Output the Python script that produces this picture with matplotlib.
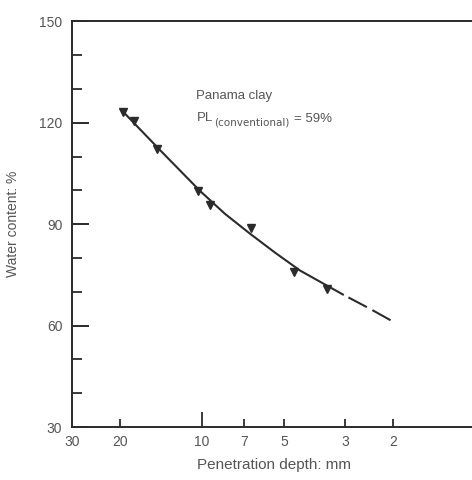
import matplotlib
matplotlib.use('Agg')
import matplotlib.pyplot as plt

plt.rcParams['font.family'] = ['Liberation Sans', 'DejaVu Sans']

#measured points (penetration depth mm, water content %)
depth = [19.5, 17.8, 14.7, 10.4, 9.4, 6.6, 4.6, 3.5]
water = [123.3, 120.6, 112.3, 99.9, 95.7, 88.8, 76.0, 70.7]

#fitted curve, solid part and dashed extrapolation
fit_depth = [19.5, 14.3, 10.2, 8.26, 6.68, 5.41, 4.38, 3.05]
fit_water = [123.3, 112.0, 99.9, 93.1, 87.2, 81.6, 76.3, 69.2]
ext_depth = [3.05, 2.43, 2.0]
ext_water = [69.2, 65.0, 61.2]

xticks = [30, 20, 10, 7, 5, 3, 2]
yticks = [30, 60, 90, 120, 150]
yminor = [40, 50, 70, 80, 100, 110, 130, 140]

ink = '#2b2b2b'
txt = '#555555'

fig = plt.figure(figsize=(4.72, 4.80), dpi=100)
ax = fig.add_axes([0.1525, 0.1104, 0.854, 0.845])

ax.plot(fit_depth, fit_water, color=ink, lw=1.5)
#dashed part starts with a gap
ax.plot(ext_depth, ext_water, color=ink, lw=1.5, linestyle=(10, (10, 3)),
        dash_capstyle='butt')
ax.plot(depth, water, linestyle='none', marker='v', color=ink, markersize=6)

ax.set_xscale('log')
ax.set_xlim(30, 1)
ax.set_ylim(30, 150)

ax.set_xticks(xticks)
ax.set_xticklabels([str(t) for t in xticks])
ax.xaxis.set_minor_locator(matplotlib.ticker.NullLocator())
ax.set_yticks(yticks)
ax.set_yticks(yminor, minor=True)

ax.tick_params(axis='x', which='major', direction='in', length=6, width=1.3,
               color=ink, labelcolor=txt, labelsize=10, pad=6)
ax.tick_params(axis='y', which='major', direction='in', length=12.5, width=1.4,
               color=ink, labelcolor=txt, labelsize=10, pad=7)
ax.tick_params(axis='y', which='minor', direction='in', length=7, width=1.3, color=ink)
ax.tick_params(right=False, top=False, which='both')

#the 10 mm tick is drawn longer, none at the 30 corner
for t, v in zip(ax.xaxis.get_major_ticks(), xticks):
    if v == 10:
        t.tick1line.set_markersize(11)
    if v == 30:
        t.tick1line.set_visible(False)

for s in ['left', 'bottom', 'top']:
    ax.spines[s].set_color(ink)
    ax.spines[s].set_linewidth(1.4)
ax.spines['right'].set_visible(False)

ax.set_xlabel('Penetration depth: mm', color=txt, fontsize=11, labelpad=6)
ax.set_ylabel('Water content: %', color=txt, fontsize=10)
ax.yaxis.set_label_coords(-0.128, 0.5)

ax.text(10.5, 127, 'Panama clay', color=txt, fontsize=9.5)
pl = ax.text(10.5, 120.6, 'PL', color=txt, fontsize=9.5)
sub = ax.annotate('(conventional)', xy=(1, 0), xycoords=pl, xytext=(1, -3),
                  textcoords='offset points', color=txt, fontsize=7.5,
                  family='DejaVu Sans', va='bottom')
ax.annotate('= 59%', xy=(1, 0), xycoords=sub, xytext=(3, 2),
            textcoords='offset points', color=txt, fontsize=9.5, va='bottom')

fig.savefig('out.png', dpi=100)
